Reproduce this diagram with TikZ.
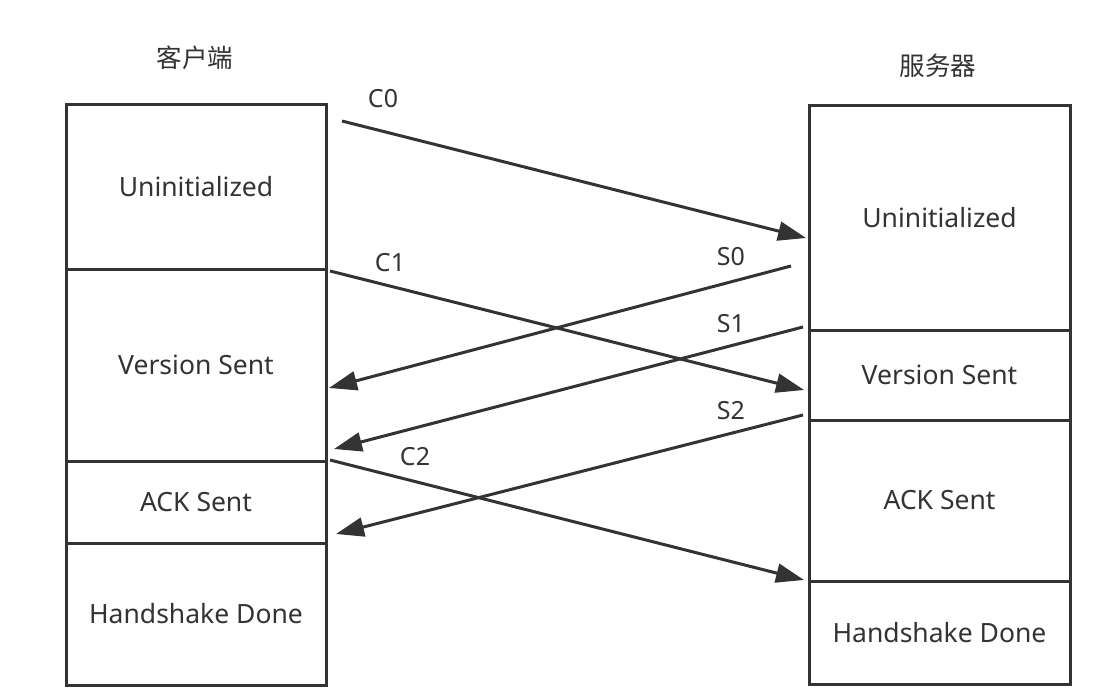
\documentclass[tikz,border=0pt]{standalone}
\usepackage{fontspec}
\setmainfont{Noto Sans}
\newfontfamily\cjk{Noto Sans CJK SC}
\usetikzlibrary{arrows.meta}
\definecolor{ink}{HTML}{333333}
\begin{document}
\begin{tikzpicture}[x=1pt,y=-1pt,
  statebox/.style={draw=ink, line width=3pt, rectangle, inner sep=0pt,
    text=ink, font=\fontsize{26.5}{30}\selectfont},
  msg/.style={draw=ink, line width=3pt, -{Triangle[length=28pt,width=19pt]}},
  lbl/.style={text=ink, font=\fontsize{25}{28}\selectfont, inner sep=0pt},
  ttl/.style={text=ink, font=\cjk\fontsize{25.5}{28}\selectfont, inner sep=0pt}]
\useasboundingbox[fill=white] (0,0) rectangle (1116,698);
% titles
\node[ttl] (tc) at (195,58) {客户端};
\node[ttl] (ts) at (938,66) {服务器};
% client boxes
\node[statebox, minimum width=260pt, minimum height=164pt] (cu) at (196,187) {Uninitialized};
\node[statebox, minimum width=260pt, minimum height=192pt] (cv) at (196,365) {Version Sent};
\node[statebox, minimum width=260pt, minimum height=82pt] (ca) at (196,502) {ACK Sent};
\node[statebox, minimum width=260pt, minimum height=142pt] (ch) at (196,614) {Handshake Done};
% server boxes
\node[statebox, minimum width=261pt, minimum height=224pt] (su) at (939.5,218) {Uninitialized};
\node[statebox, minimum width=261pt, minimum height=90pt] (sv) at (939.5,375) {Version Sent};
\node[statebox, minimum width=261pt, minimum height=161pt] (sa) at (939.5,500.5) {ACK Sent};
\node[statebox, minimum width=261pt, minimum height=103pt] (sh) at (939.5,632.5) {Handshake Done};
% message end points
\coordinate (c0a) at (342,121); \coordinate (c0b) at (806,238);
\coordinate (c1a) at (330,271); \coordinate (c1b) at (804,390);
\coordinate (c2a) at (330,460); \coordinate (c2b) at (804,580);
\coordinate (s0a) at (791,266); \coordinate (s0b) at (329,388);
\coordinate (s1a) at (803,327); \coordinate (s1b) at (334,449);
\coordinate (s2a) at (803,415); \coordinate (s2b) at (336,534);
\draw[msg] (c0a) -- (c0b);
\draw[msg] (c1a) -- (c1b);
\draw[msg] (c2a) -- (c2b);
\draw[msg] (s0a) -- (s0b);
\draw[msg] (s1a) -- (s1b);
\draw[msg] (s2a) -- (s2b);
% labels
\node[lbl] (l0) at (383,99) {C0};
\node[lbl] (l1) at (390,263) {C1};
\node[lbl] (l2) at (415,457) {C2};
\node[lbl] (m0) at (731,257) {S0};
\node[lbl] (m1) at (731,324) {S1};
\node[lbl] (m2) at (731,411) {S2};
\end{tikzpicture}
\end{document}
